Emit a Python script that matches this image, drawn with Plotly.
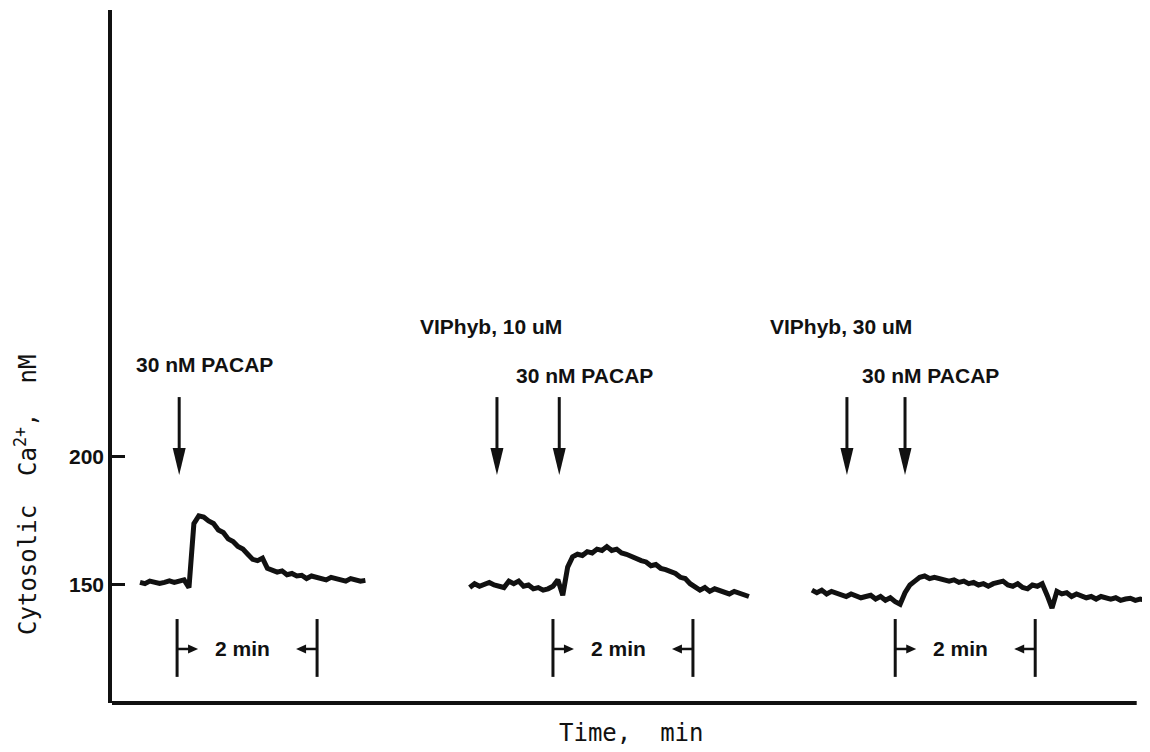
import numpy as np
import plotly.graph_objects as go

# ---------------- data (time in minutes, Ca2+ in nM) ----------------
SAMPLE_DT = 0.07  # min between samples of the recordings

trace1_start = 0.40
trace1_vals = [151, 150.5, 151.5, 151.2, 150.6, 151, 151.6, 151, 151.3, 152,
               149, 174, 177, 176.5, 175, 174, 171.5, 170.5, 168, 167,
               165, 164, 162, 160, 159.5, 160.5, 156.5, 156, 155, 155.5,
               154, 154.5, 153.5, 153.8, 152.5, 153.5, 153, 152.3, 152, 153,
               152.6, 152, 151.5, 152.5, 152, 151.5, 151.8]

trace2_start = 5.11
trace2_vals = [149, 150.5, 149.5, 150, 151, 150, 149.5, 149, 151.5, 150.5,
               151.5, 149.5, 150, 148.5, 149, 148, 148.5, 149.5, 152, 146,
               157, 161, 162, 161.5, 163, 162.5, 164, 163.5, 165, 163.5,
               164, 162.5, 162, 161, 160.5, 159.5, 159, 157.5, 158, 156.5,
               156, 155.5, 154.5, 153, 152.5, 150.5, 149.5, 148, 149, 147.5,
               148.5, 148, 147.5, 146.5, 147.5, 147, 146.5, 145.5]

trace3_start = 10.0
trace3_vals = [148, 147, 148, 146.5, 147.5, 147, 146, 145.5, 146.5, 146,
               145, 145.5, 146, 144.5, 145.5, 144, 145, 143.5, 142.5, 147,
               150, 151.5, 153, 153.5, 152.5, 153, 152.5, 152, 151.5, 152,
               151, 151.5, 150.5, 151, 150, 150.5, 149.5, 150.5, 151, 151.5,
               150, 149.5, 150.5, 149, 148.5, 150, 149.5, 150.5, 146, 141,
               147.5, 146.5, 147, 145.5, 146.5, 146, 145, 145.5, 144.5, 145.5,
               145, 144.5, 145, 144, 144.5, 144.8, 144, 144.5, 144]

pacap_times = [0.96, 6.39, 11.33]
pacap_labels = ["30 nM PACAP", "30 nM PACAP", "30 nM PACAP"]
pacap_label_y = [236, 232, 232]
viphyb_times = [5.50, 10.50]
viphyb_labels = ["VIPhyb, 10 uM", "VIPhyb, 30 uM"]
viphyb_label_y = 251
bracket_starts = [0.93, 6.30, 11.19]
bracket_len = 2.0
bracket_label = "2 min"

y_ticks = [150, 200]
y_ticktext = ["150", "200"]

# ---------------- style constants ----------------
X_RANGE = [0, 14.83]
Y_RANGE = [103.9, 374.6]
X_AXIS_END = 14.64
ARROW_TOP = 223.4
ARROW_TIP = 193.0
BR_TOP, BR_BOT, BR_Y = 136.7, 114.1, 125.0
TXT = "Liberation Sans, Arial, Helvetica, sans-serif"
MONO = "DejaVu Sans Mono, monospace"
INK = "#111111"

fig = go.Figure()
for start, vals in [(trace1_start, trace1_vals), (trace2_start, trace2_vals),
                    (trace3_start, trace3_vals)]:
    t = start + SAMPLE_DT * np.arange(len(vals))
    fig.add_trace(go.Scatter(x=t, y=vals, mode="lines",
                             line=dict(color=INK, width=5),
                             showlegend=False, hoverinfo="skip"))

shapes = []
annotations = []


def down_arrow(t):
    shapes.append(dict(type="line", xref="x", yref="y", x0=t, x1=t,
                       y0=ARROW_TOP, y1=ARROW_TIP + 5,
                       line=dict(color=INK, width=3)))
    shapes.append(dict(type="path", xref="x", yref="y",
                       xsizemode="pixel", ysizemode="pixel",
                       xanchor=t, yanchor=ARROW_TIP,
                       path="M0,0 L-6.5,27 L6.5,27 Z",
                       fillcolor=INK, line=dict(width=0)))


def label_font(size=21):
    return dict(family=TXT, size=size, color=INK, weight="bold")


for t, lab, ly in zip(pacap_times, pacap_labels, pacap_label_y):
    down_arrow(t)
    annotations.append(dict(x=t - 0.64, y=ly, xref="x", yref="y", text=lab,
                            showarrow=False, xanchor="left", yanchor="middle",
                            font=label_font()))
for t, lab in zip(viphyb_times, viphyb_labels):
    down_arrow(t)
    annotations.append(dict(x=t - 1.13, y=viphyb_label_y, xref="x", yref="y",
                            text=lab, showarrow=False, xanchor="left",
                            yanchor="middle", font=label_font()))

for s in bracket_starts:
    e = s + bracket_len
    for xv in (s, e):
        shapes.append(dict(type="line", xref="x", yref="y", x0=xv, x1=xv,
                           y0=BR_BOT, y1=BR_TOP,
                           line=dict(color=INK, width=3)))
    # left arrow pointing right
    shapes.append(dict(type="line", xref="x", yref="y", x0=s, x1=s + 0.2,
                       y0=BR_Y, y1=BR_Y, line=dict(color=INK, width=2.5)))
    shapes.append(dict(type="path", xref="x", yref="y",
                       xsizemode="pixel", ysizemode="pixel",
                       xanchor=s + 0.3, yanchor=BR_Y,
                       path="M0,0 L-10,4.5 L-10,-4.5 Z",
                       fillcolor=INK, line=dict(width=0)))
    # right arrow pointing left
    shapes.append(dict(type="line", xref="x", yref="y", x0=e, x1=e - 0.2,
                       y0=BR_Y, y1=BR_Y, line=dict(color=INK, width=2.5)))
    shapes.append(dict(type="path", xref="x", yref="y",
                       xsizemode="pixel", ysizemode="pixel",
                       xanchor=e - 0.3, yanchor=BR_Y,
                       path="M0,0 L10,4.5 L10,-4.5 Z",
                       fillcolor=INK, line=dict(width=0)))
    annotations.append(dict(x=s + 0.93, y=BR_Y, xref="x", yref="y",
                            text=bracket_label, showarrow=False,
                            xanchor="center", yanchor="middle",
                            font=label_font()))

# x axis line
shapes.append(dict(type="line", xref="x", yref="paper", x0=X_RANGE[0],
                   x1=X_AXIS_END, y0=0, y1=0,
                   line=dict(color=INK, width=4)))

annotations.append(dict(x=0.5, y=-0.043, xref="paper", yref="paper",
                        text="Time,\u00a0\u00a0min", showarrow=False,
                        xanchor="center", yanchor="middle",
                        font=dict(family=MONO, size=24, color=INK)))
annotations.append(dict(x=-0.083, y=0.30, xref="paper", yref="paper",
                        text="Cytosolic\u00a0\u00a0Ca<sup>2+</sup>,\u00a0\u00a0nM",
                        showarrow=False, textangle=-90,
                        xanchor="center", yanchor="middle",
                        font=dict(family=MONO, size=24, color=INK)))

# the page adds an 8px body margin, so the figure is 8px smaller
fig.update_layout(
    width=1142, height=744,
    margin=dict(l=104, r=0, t=2, b=49),
    paper_bgcolor="white", plot_bgcolor="white",
    shapes=shapes, annotations=annotations,
    xaxis=dict(range=X_RANGE, showticklabels=False, showgrid=False,
               zeroline=False, showline=False, ticks=""),
    yaxis=dict(range=Y_RANGE, tickvals=y_ticks, ticktext=y_ticktext,
               ticks="inside", ticklen=13, tickwidth=3, tickcolor=INK,
               showgrid=False, zeroline=False, showline=True, linewidth=3.5,
               linecolor=INK, tickfont=label_font()),
)

fig.write_html("out.html")
